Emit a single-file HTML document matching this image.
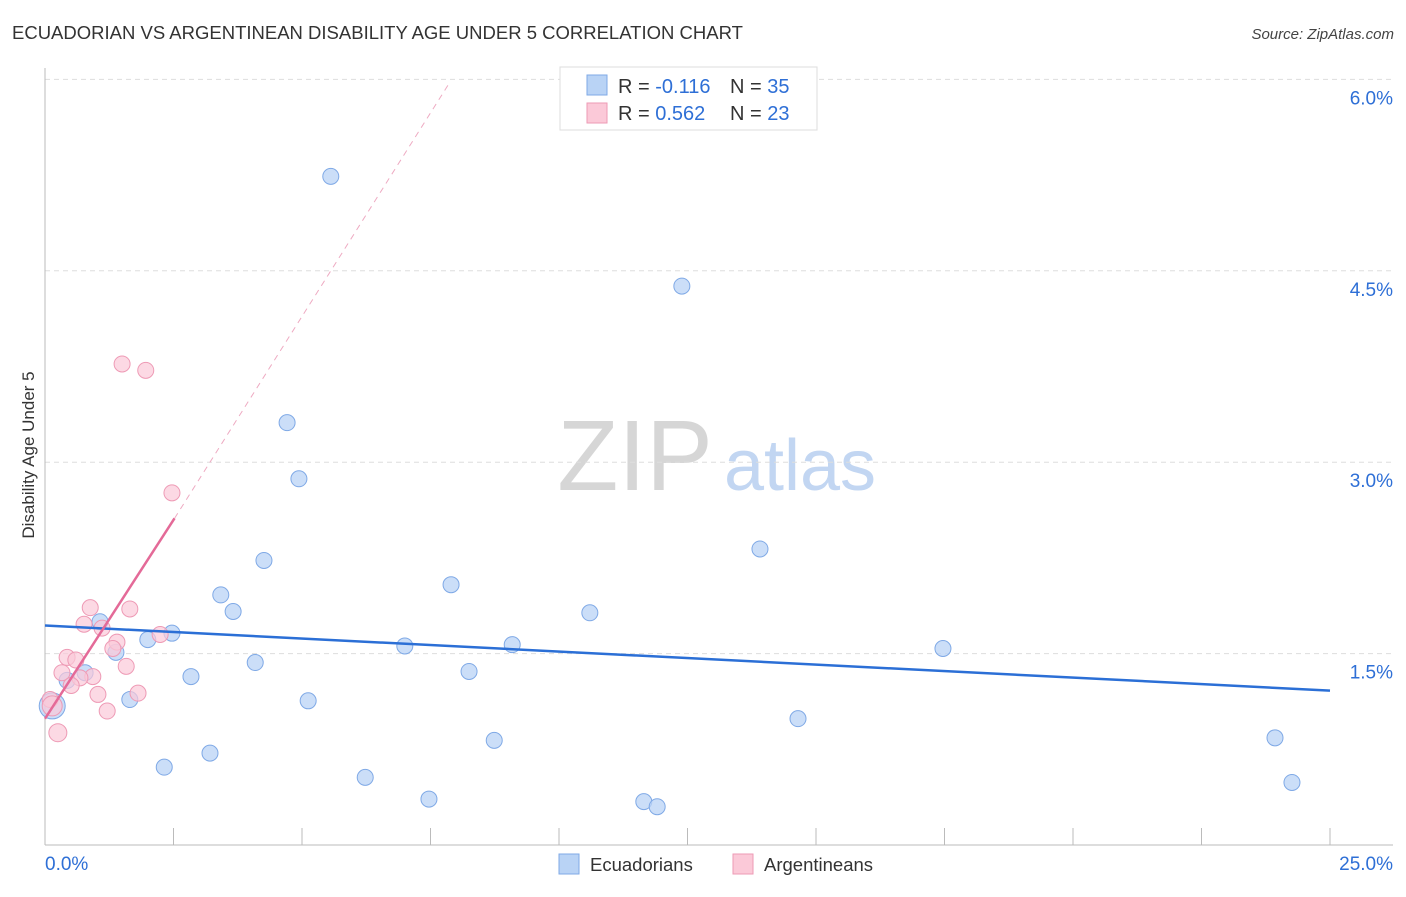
<!DOCTYPE html>
<html><head><meta charset="utf-8"><style>
body{margin:0;background:#fff;font-family:"Liberation Sans",sans-serif;}
svg text{font-family:"Liberation Sans",sans-serif;}
</style></head><body>
<svg id="chart" width="1406" height="892" viewBox="0 0 1406 892" xmlns="http://www.w3.org/2000/svg">
<text x="12" y="39" font-size="18.5" fill="#333">ECUADORIAN VS ARGENTINEAN DISABILITY AGE UNDER 5 CORRELATION CHART</text>
<text x="1394" y="39" font-size="15" fill="#444" text-anchor="end" font-style="italic">Source: ZipAtlas.com</text>
<g>
<text x="635" y="490" font-size="100" fill="#d6d6d6" text-anchor="middle" font-family="Liberation Serif">ZIP</text>
<text x="800" y="490" font-size="72" fill="#c2d6f2" text-anchor="middle">atlas</text>
</g>
<g id="grid"></g>
<g id="axes"></g>
<g id="marks"></g>
<text transform="translate(34,455) rotate(-90)" font-size="17" fill="#333" text-anchor="middle">Disability Age Under 5</text>
<g>
<rect x="560" y="67" width="257" height="63" fill="#fff" stroke="#ddd"/>
<rect x="587" y="75" width="20" height="20" fill="#b9d3f5" stroke="#7fa9e6"/>
<rect x="587" y="103" width="20" height="20" fill="#fbc9d8" stroke="#ee9ab5"/>
<text x="618" y="93" font-size="20" fill="#333">R = <tspan fill="#2e6fd6">-0.116</tspan></text>
<text x="730" y="93" font-size="20" fill="#333">N = <tspan fill="#2e6fd6">35</tspan></text>
<text x="618" y="120" font-size="20" fill="#333">R = <tspan fill="#2e6fd6"> 0.562</tspan></text>
<text x="730" y="120" font-size="20" fill="#333">N = <tspan fill="#2e6fd6">23</tspan></text>
</g>
<g>
<rect x="559" y="854" width="20" height="20" fill="#b9d3f5" stroke="#7fa9e6"/>
<text x="590" y="871" font-size="18.5" fill="#333">Ecuadorians</text>
<rect x="733" y="854" width="20" height="20" fill="#fbc9d8" stroke="#ee9ab5"/>
<text x="764" y="871" font-size="18.5" fill="#333">Argentineans</text>
</g>
</svg>
<script>
const yTicks=[1.5,3.0,4.5,6.0];
const yTickLabels=["1.5%","3.0%","4.5%","6.0%"];
const xTickCount=[0,2.5,5,7.5,10,12.5,15,17.5,20,22.5,25];
const blueX=[5.56,12.39,4.71,4.94,13.91,4.26,7.90,3.42,10.60,3.66,1.07,2.47,2.00,7.00,9.09,17.47,1.38,0.78,8.25,2.84,0.43,4.09,1.65,5.12,0.14,14.65,8.74,23.93,3.21,2.32,6.23,7.47,11.65,11.91,24.26];
const blueY=[5.24,4.38,3.31,2.87,2.32,2.23,2.04,1.96,1.82,1.83,1.75,1.66,1.61,1.56,1.57,1.54,1.51,1.35,1.36,1.32,1.29,1.43,1.14,1.13,1.09,0.99,0.82,0.84,0.72,0.61,0.53,0.36,0.34,0.30,0.49];
const blueR=[8,8,8,8,8,8,8,8,8,8,8,8,8,8,8,8,8,8,8,8,8,8,8,8,13,8,8,8,8,8,8,8,8,8,8];
const pinkX=[1.50,1.96,2.47,0.88,1.65,0.76,1.11,2.24,1.40,1.32,0.43,0.60,1.58,0.33,0.93,0.68,0.51,1.03,1.81,0.10,1.21,0.14,0.25];
const pinkY=[3.77,3.72,2.76,1.86,1.85,1.73,1.70,1.65,1.59,1.54,1.47,1.45,1.40,1.35,1.32,1.31,1.25,1.18,1.19,1.14,1.05,1.09,0.88];
const pinkR=[8,8,8,8,8,8,8,8,8,8,8,8,8,8,8,8,8,8,8,8,8,10,9];
const blueTrend=[1.72,1.21];
const pinkTrend=[0.99,2.56,5.98];
const pinkTrendX=[0,2.52,7.88];
const NS="http://www.w3.org/2000/svg";
const sx=v=>45+v*51.4, sy=v=>845-v*127.6;
function mk(t,a,p){const e=document.createElementNS(NS,t);for(const k in a)e.setAttribute(k,a[k]);p.appendChild(e);return e;}
const grid=document.getElementById('grid'),axes=document.getElementById('axes'),marks=document.getElementById('marks');
yTicks.forEach((v,i)=>{
 const l=mk('line',{x1:45,x2:1393,y1:sy(v),y2:sy(v),stroke:'#ddd','stroke-dasharray':'5,4'},grid);
 
 const t=mk('text',{x:1393,y:sy(v)+25,'font-size':19,fill:'#2e6fd6','text-anchor':'end'},axes);
 t.textContent=yTickLabels[i];
 
});
mk('line',{x1:45,x2:45,y1:68,y2:845,stroke:'#bbb'},axes);
mk('line',{x1:45,x2:1393,y1:845,y2:845,stroke:'#bbb'},axes);
xTickCount.forEach(v=>{const l=mk('line',{x1:sx(v),x2:sx(v),y1:828,y2:845,stroke:'#bbb'},axes);
 });
let t=mk('text',{x:45,y:870,'font-size':19,fill:'#2e6fd6'},axes);t.textContent='0.0%';

t=mk('text',{x:1393,y:870,'font-size':19,fill:'#2e6fd6','text-anchor':'end'},axes);t.textContent='25.0%';

blueX.forEach((x,i)=>{const c=mk('circle',{cx:sx(x),cy:sy(blueY[i]),r:blueR[i],fill:'rgba(185,211,245,0.75)',stroke:'#7fa9e6','stroke-width':1},marks);
 });
pinkX.forEach((x,i)=>{const c=mk('circle',{cx:sx(x),cy:sy(pinkY[i]),r:pinkR[i],fill:'rgba(251,201,216,0.7)',stroke:'#ee9ab5','stroke-width':1},marks);
 });
let l=mk('line',{x1:sx(0),y1:sy(blueTrend[0]),x2:sx(25),y2:sy(blueTrend[1]),stroke:'#2b6fd6','stroke-width':2.5},marks);

l=mk('line',{x1:sx(pinkTrendX[0]),y1:sy(pinkTrend[0]),x2:sx(pinkTrendX[1]),y2:sy(pinkTrend[1]),stroke:'#e46a98','stroke-width':2.5},marks);

l=mk('line',{x1:sx(pinkTrendX[1]),y1:sy(pinkTrend[1]),x2:sx(pinkTrendX[2]),y2:sy(pinkTrend[2]),stroke:'#eeaac2','stroke-width':1,'stroke-dasharray':'6,5'},marks);

</script>
</body></html>
